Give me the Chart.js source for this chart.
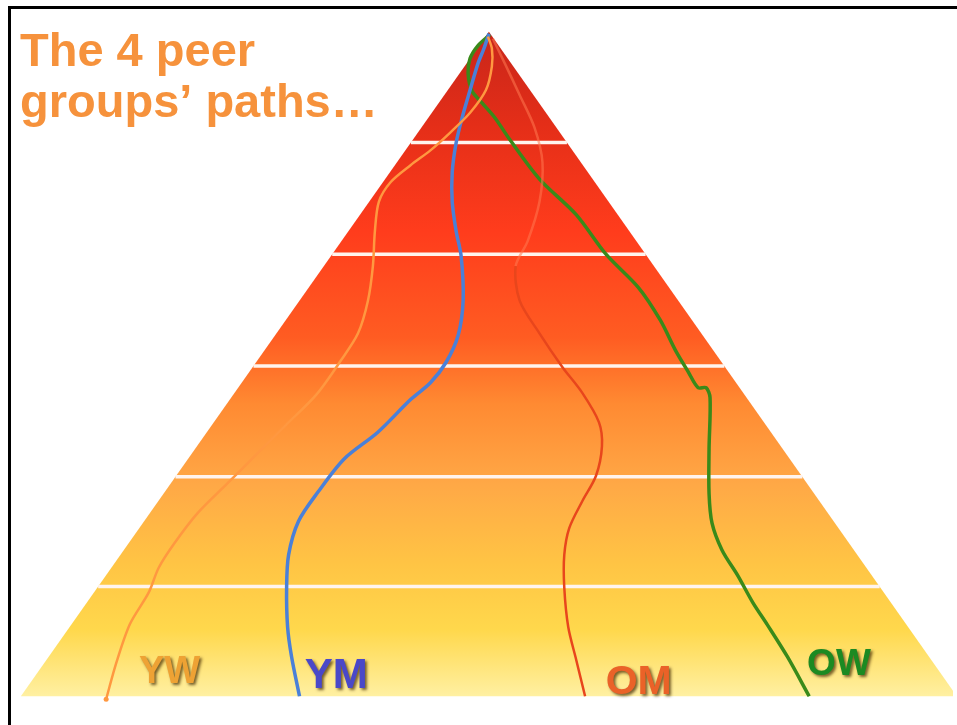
<!DOCTYPE html>
<html>
<head>
  <meta charset="UTF-8">
  <title>The 4 peer groups' paths</title>
  <script src="https://cdn.jsdelivr.net/npm/chart.js"></script>
  <style>
    html, body { margin: 0; padding: 0; background: #fff; overflow: hidden; }
    #wrap { position: relative; width: 957px; height: 725px; }
    #frame { position: absolute; left: 8px; top: 6px; right: -10px; bottom: -10px;
             border-left: 3px solid #000; border-top: 3px solid #000; pointer-events: none; }
  </style>
</head>
<body>
<div id="wrap">
  <canvas id="chart" width="957" height="725"></canvas>
  <div id="frame"></div>
</div>
<script>
  // pyramid corners (picture units: x to the right, y downwards)
  const pyramidX = [17, 489, 961];
  const pyramidY = [700, 28, 700];
  // levels of the white dividing lines
  const bandY = [140, 253, 366, 478, 589];

  // the four peer groups
  const groups = ['YW', 'YM', 'OM', 'OW'];

  // paths, read from apex down to the base
  const ywPath = [[488,33],[492,45],[492,63],[486,87],[470,110],[450,130],[430,148],[410,163],[390,180],
    [378,200],[374,230],[372,265],[367,300],[357,333],[340,360],[315,395],[285,425],[255,455],[225,485],
    [195,515],[172,545],[156,570],[146,595],[127,627],[113,667],[103,703]];
  const ymPath = [[489,30],[484,45],[478,60],[470,87],[462,115],[456,140],[452,170],[452,200],[456,230],
    [461,255],[463,300],[458,335],[446,362],[430,383],[410,400],[377,433],[343,460],[317,493],[297,523],
    [287,557],[285,590],[286,630],[290,660],[298,700]];
  const omPath = [[493,35],[505,60],[520,92],[535,125],[543,160],[540,200],[528,240],[516,265],[520,300],
    [540,333],[563,367],[583,393],[600,423],[603,447],[597,477],[583,503],[570,530],[565,557],[565,590],
    [569,630],[577,663],[586,700]];
  const owPath = [[490,31],[478,42],[470,55],[468,70],[472,88],[482,100],[495,115],[510,137],[540,177],
    [577,213],[607,253],[640,287],[662,320],[677,350],[690,372],[700,388],[708,388],[712,398],[711,450],
    [711,495],[714,525],[724,552],[740,578],[755,605],[770,628],[790,660],[812,700]];

  const pts = arr => arr.map(p => ({ x: p[0], y: p[1] }));

  // left / right edge of the pyramid at a given height
  function edgeX(y, side) {
    const t = (y - pyramidY[1]) / (pyramidY[0] - pyramidY[1]);
    return pyramidX[1] + t * (pyramidX[side] - pyramidX[1]);
  }

  const lineSets = bandY.map(y => ({
    data: [{ x: edgeX(y, 0), y: y }, { x: edgeX(y, 2), y: y }],
    showLine: true, borderColor: '#fff4ee', borderWidth: 3.5, pointRadius: 0, order: 5
  }));

  const pathStyle = {
    YW: { color: '#ff9840', width: 2.5 },
    YM: { color: '#4a80d8', width: 3.5 },
    OM: { color: '#e8461c', width: 2.5 },
    OW: { color: '#3a8a1a', width: 3.5 }
  };
  const paths = { YW: ywPath, YM: ymPath, OM: omPath, OW: owPath };

  const pathSets = groups.map(g => ({
    label: g,
    data: pts(paths[g]),
    showLine: true,
    tension: 0.3,
    borderColor: pathStyle[g].color,
    borderWidth: pathStyle[g].width,
    pointRadius: g === 'YW' ? paths[g].map((p, i) => i === paths[g].length - 1 ? 2.5 : 0) : 0,
    pointBackgroundColor: pathStyle[g].color,
    pointBorderWidth: 0,
    segment: g === 'OM' ? {
      borderColor: c => c.p0.parsed.y < 258 ? 'rgba(255,120,80,0.55)' : undefined
    } : undefined,
    order: 1
  }));

  const pyramidSet = {
    data: pyramidX.map((x, i) => ({ x: x, y: pyramidY[i] })),
    showLine: true,
    borderWidth: 0,
    pointRadius: 0,
    fill: { value: pyramidY[0] },
    backgroundColor: function (context) {
      const chart = context.chart;
      if (!chart.chartArea) return '#ff6020';
      const ys = chart.scales.y;
      const g = chart.ctx.createLinearGradient(0, ys.getPixelForValue(pyramidY[1]), 0, ys.getPixelForValue(pyramidY[0]));
      g.addColorStop(0.0, '#c8261a');
      g.addColorStop(0.14, '#e42e18');
      g.addColorStop(0.3, '#ff3c1c');
      g.addColorStop(0.46, '#ff5c22');
      g.addColorStop(0.56, '#ff8a32');
      g.addColorStop(0.68, '#ffa846');
      g.addColorStop(0.8, '#ffc444');
      g.addColorStop(0.9, '#ffd84c');
      g.addColorStop(1.0, '#fff0a2');
      return g;
    },
    order: 10
  };

  const textPlugin = {
    id: 'texts',
    afterDraw(chart, args, opts) {
      const ctx = chart.ctx;
      const xs = chart.scales.x, ys = chart.scales.y;
      ctx.save();
      ctx.textBaseline = 'alphabetic';
      ctx.fillStyle = '#f6923c';
      ctx.textAlign = 'left';
      ctx.font = 'bold 47px "Liberation Sans", Arial, sans-serif';
      ctx.fillText('The 4 peer', 20, 66);
      ctx.fillText('groups\u2019 paths\u2026', 20, 117);

      ctx.textAlign = 'center';
      opts.labels.forEach(l => {
        ctx.shadowColor = 'rgba(60,35,0,0.7)';
        ctx.shadowOffsetX = 2;
        ctx.shadowOffsetY = 2;
        ctx.shadowBlur = 3;
        ctx.fillStyle = l.color;
        ctx.font = 'bold ' + l.size + 'px "Liberation Sans", Arial, sans-serif';
        ctx.fillText(l.text, xs.getPixelForValue(l.x), ys.getPixelForValue(l.y));
      });
      ctx.restore();
    }
  };

  new Chart(document.getElementById('chart'), {
    type: 'scatter',
    data: { datasets: [...pathSets, ...lineSets, pyramidSet] },
    options: {
      responsive: false,
      animation: false,
      layout: { padding: 0 },
      scales: {
        x: { type: 'linear', min: 0, max: 957, display: false },
        y: { type: 'linear', min: 0, max: 725, reverse: true, display: false }
      },
      plugins: {
        legend: { display: false },
        tooltip: { enabled: false },
        texts: {
          labels: [
            { text: groups[0], x: 167, y: 687, size: 38, color: '#eea234' },
            { text: groups[1], x: 335, y: 692, size: 42, color: '#4a48c8' },
            { text: groups[2], x: 640, y: 698, size: 41, color: '#ea6228' },
            { text: groups[3], x: 842, y: 678, size: 37, color: '#1c8a22' }
          ]
        }
      }
    },
    plugins: [textPlugin]
  });
</script>
</body>
</html>
